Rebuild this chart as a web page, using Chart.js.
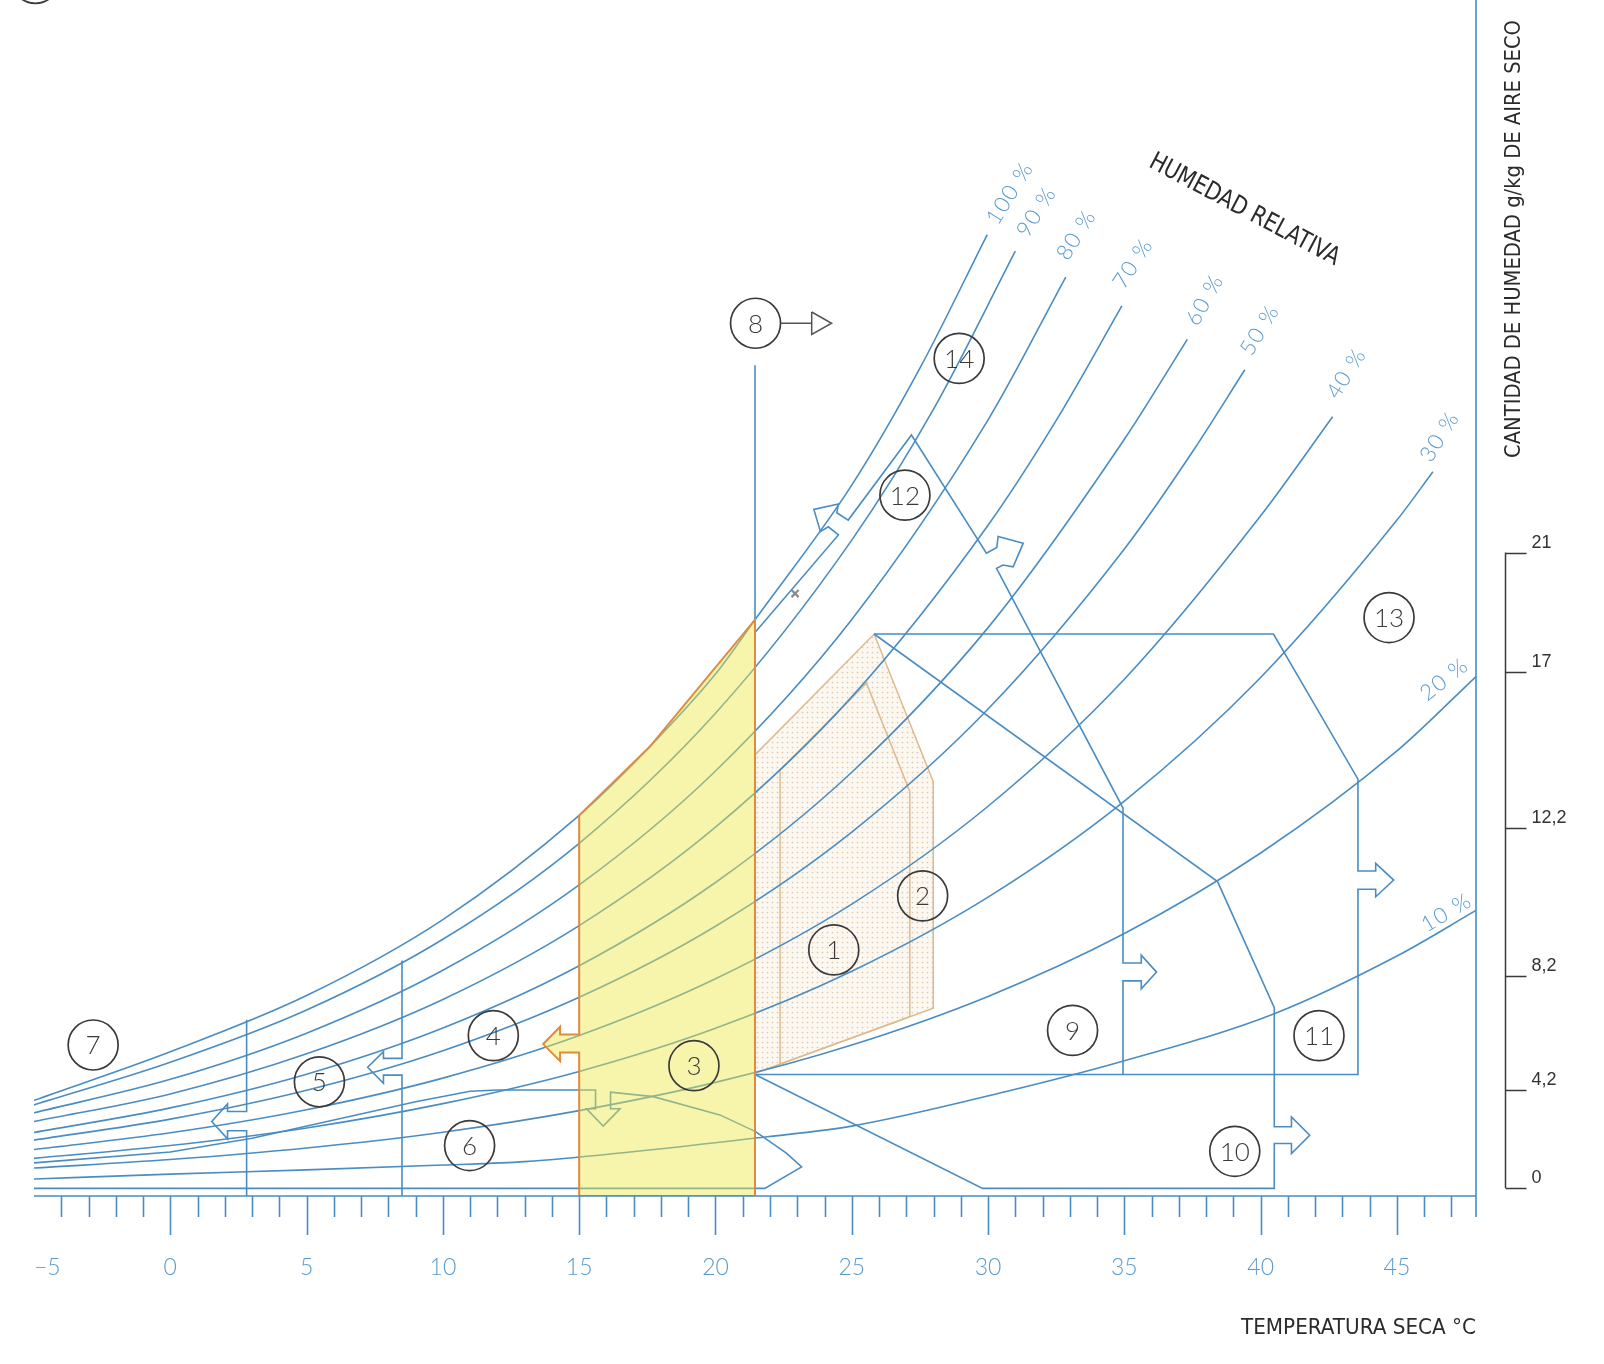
<!DOCTYPE html>
<html>
<head>
<meta charset="utf-8">
<script src="https://cdn.jsdelivr.net/npm/chart.js@4.4.1/dist/chart.umd.min.js"></script>
<style>
  html, body { margin: 0; padding: 0; background: #ffffff; }
  canvas { display: block; }
</style>
</head>
<body>
<canvas id="psicro" width="1604" height="1364"></canvas>
<script>
// --- ejes: temperatura seca (°C) y humedad (g/kg, escala del dibujo) ---
const X_MIN = -5, X_MAX = 47.9, Y_MAX = 39.37;

// curvas de humedad relativa [T, g/kg]
const RH_100 = [[-5,3.15],[0,4.75],[5,6.6],[10,9.1],[15,12.53],[17.6,14.8],[20,17.18],[21.45,18.97],[25,23.4],[27.5,27.25],[29.97,31.65]];
const RH_90 = [[-5,3.0],[0,4.4],[5,6.12],[10,8.45],[15,11.61],[20,15.89],[25,21.59],[28,25.9],[31.0,31.1]];
const RH_80 = [[-5,2.74],[0,3.84],[5,5.36],[10,7.43],[15,10.24],[20,13.99],[25,18.98],[30,25.55],[32.85,30.25]];
const RH_70 = [[-5,2.45],[0,3.36],[5,4.68],[10,6.47],[15,8.9],[20,12.14],[25,16.43],[30,22.08],[32.5,25.53],[34.91,29.3]];
const RH_60 = [[-5,2.09],[0,2.9],[5,4.01],[10,5.53],[15,7.58],[20,10.32],[25,13.95],[30,18.71],[35,24.91],[37.31,28.2]];
const RH_50 = [[-5,1.84],[0,2.53],[5,3.48],[10,4.78],[15,6.54],[20,8.88],[25,11.98],[30,16.03],[35,21.3],[37.5,24.5],[39.42,27.2]];
const RH_40 = [[-5,1.53],[0,2.08],[5,2.84],[10,3.88],[15,5.28],[20,7.15],[25,9.61],[30,12.83],[35,17.01],[40,22.39],[42.64,25.65]];
const RH_30 = [[-5,1.24],[0,1.66],[5,2.24],[10,3.04],[15,4.1],[20,5.52],[25,7.4],[30,9.84],[35,13.0],[40,17.07],[45,22.25],[46.32,23.84]];
const RH_20 = [[-5,0.92],[0,1.2],[5,1.58],[10,2.1],[15,2.81],[20,3.74],[25,4.97],[30,6.57],[35,8.64],[40,11.29],[45,14.65],[47.9,17.1]];
const RH_10 = [[-5,0.56],[0,0.72],[5,0.86],[10,1.02],[13,1.13],[21.9,1.95],[25,2.3],[30.4,3.38],[35,4.45],[40.5,6.0],[45,7.9],[47.9,9.4]];

const RH_LABELS = ['100 %', '90 %', '80 %', '70 %', '60 %', '50 %', '40 %', '30 %', '20 %', '10 %'];
const RH_LABEL_POS = [[30.8,33.01],[31.78,32.4],[33.24,31.64],[35.32,30.7],[37.95,29.5],[39.97,28.51],[43.15,27.08],[46.57,25.0],[46.74,17.01],[46.82,9.33]];

// zonas
const ZONE3 = [[15,0],[15,4.72],[14.3,4.72],[14.3,4.44],[13.68,5.0],[14.3,5.57],[14.3,5.32],[15,5.32],[15,12.53],[17.6,14.8],[21.45,18.97],[21.45,0],[15,0]];
const COMFORT_OUTER = [[21.45,4.04],[21.45,14.52],[25.82,18.5],[27.99,13.64],[27.99,6.18],[21.45,4.04]];
const COMFORT_INNER = [[22.37,4.34],[22.37,14.02],[25.54,16.88],[27.13,13.31],[27.13,5.9],[22.37,4.34]];
const ZONE6 = [[-5,1.09],[0,1.45],[3,1.9],[6,2.5],[9,3.1],[11,3.45],[12,3.49],[15.6,3.49],[15.6,2.87],[15.27,2.87],[15.88,2.3],[16.5,2.87],[16.15,2.87],[16.15,3.42],[17.72,3.27],[20.16,2.67],[21.47,2.12],[22.6,1.41],[23.16,0.96],[21.81,0.25],[-5,0.25]];
const LINE_5 = [[8.5,7.75],[8.5,4.53],[7.82,4.53],[7.82,4.75],[7.24,4.24],[7.82,3.71],[7.82,3.98],[8.5,3.98],[8.5,0]];
const LINE_7 = [[2.8,5.8],[2.8,2.78],[2.1,2.78],[2.1,3.03],[1.52,2.45],[2.1,1.88],[2.1,2.15],[2.8,2.15],[2.8,0]];
const LINE_8 = [[21.45,18.97],[21.45,27.35]];
const ARROW_8 = [[22.4,28.73],[23.53,28.73]];
const ARROW_8_HEAD = [[23.53,29.1],[24.26,28.73],[23.53,28.36],[23.53,29.1]];
const ZONE12 = [[21.45,18.55],[24.51,21.76],[24.14,22.03],[23.85,21.87],[23.61,22.6],[24.51,22.78],[24.45,22.49],[24.87,22.25],[27.19,25.05],[29.94,21.16],[30.32,21.35],[30.37,21.71],[31.29,21.49],[30.92,20.71],[30.55,20.77],[30.31,20.66],[34.95,12.77],[34.95,7.67],[35.62,7.67],[35.62,7.93],[36.18,7.37],[35.62,6.82],[35.62,7.08],[34.95,7.08],[34.95,4.0]];
const ZONE11 = [[25.82,18.5],[40.47,18.5],[43.57,13.72],[43.57,10.7],[44.22,10.7],[44.22,10.95],[44.88,10.4],[44.22,9.85],[44.22,10.1],[43.57,10.1],[43.57,4.0],[21.45,4.0]];
const ZONE10 = [[25.82,18.5],[38.42,10.35],[40.5,6.2],[40.5,2.28],[41.13,2.28],[41.13,2.6],[41.8,2.0],[41.13,1.4],[41.13,1.73],[40.5,1.73],[40.5,0.25],[29.8,0.25],[21.45,4.0]];

// numeros de zona
const ZONE_IDS = ['1','2','3','4','5','6','7','8','9','10','11','12','13','14'];
const ZONE_POS = [[24.34,8.1],[27.6,9.88],[19.21,4.29],[11.85,5.28],[5.47,3.76],[10.98,1.66],[-2.83,4.97],[21.47,28.73],[33.1,5.45],[39.05,1.47],[42.14,5.28],[26.95,23.07],[44.71,19.04],[28.94,27.57]];
const CROSS_MARK = [[22.92,19.83]];
const CORNER_MARK = [[-4.95,40.05]];

// escala derecha (tal como esta impresa)
const RIGHT_TICK_POS = [0.26, 3.5, 7.25, 12.1, 17.25, 21.18];
const RIGHT_TICK_LABELS = ['0', '4,2', '8,2', '12,2', '17', '21'];

const BLUE = '#4a8dc2';
const LABEL_BLUE = '#5a9bcb';
const ORANGE = '#df8a3c';
const TAN = '#dcbb8f';
const DARK = '#3a3a3a';

const pts = a => a.map(([x, y]) => ({ x, y }));

function curve(data) {
  return { data: pts(data), borderColor: BLUE, borderWidth: 1.6, pointRadius: 0, fill: false,
           cubicInterpolationMode: 'monotone', order: 5 };
}
function poly(data, color, width, extra) {
  return Object.assign({ data: pts(data), borderColor: color, borderWidth: width, pointRadius: 0,
                         fill: false, tension: 0, order: 5 }, extra || {});
}

// punteado de la zona de confort
const pc = document.createElement('canvas');
pc.width = 5; pc.height = 5;
const pctx = pc.getContext('2d');
pctx.fillStyle = '#fcf8f1';
pctx.fillRect(0, 0, 5, 5);
pctx.fillStyle = '#dcc7a6';
pctx.beginPath(); pctx.arc(2.5, 2.5, 0.85, 0, Math.PI * 2); pctx.fill();
const dots = pctx.createPattern(pc, 'repeat');

function fitText(ctx, text, w) {
  const m = ctx.measureText(text).width;
  ctx.save();
  ctx.scale(w / m, 1);
  ctx.fillText(text, 0, 0);
  ctx.restore();
}

// ejes dibujados a mano: linea base, marcas de grado, borde derecho, escala g/kg
const axisDeco = {
  id: 'axisDeco',
  afterDatasetsDraw(chart) {
    const { ctx, chartArea: a, scales: { x, y } } = chart;
    ctx.save();
    ctx.strokeStyle = BLUE;
    ctx.lineWidth = 1.6;
    ctx.beginPath();
    ctx.moveTo(a.left, a.bottom);
    ctx.lineTo(a.right, a.bottom);
    for (let t = -4; t <= 47; t++) {
      const px = Math.round(x.getPixelForValue(t)) + 0.5;
      ctx.moveTo(px, a.bottom);
      ctx.lineTo(px, a.bottom + (t % 5 === 0 ? 39 : 21));
    }
    ctx.moveTo(a.right, 0);
    ctx.lineTo(a.right, a.bottom + 21);
    ctx.stroke();

    // escala de humedad a la derecha
    const sx = a.right + 29.5;
    ctx.strokeStyle = DARK;
    ctx.lineWidth = 1.5;
    ctx.beginPath();
    ctx.moveTo(sx, y.getPixelForValue(RIGHT_TICK_POS[RIGHT_TICK_POS.length - 1]));
    ctx.lineTo(sx, y.getPixelForValue(RIGHT_TICK_POS[0]));
    ctx.fillStyle = '#333';
    ctx.font = '18px "Liberation Sans", Arial, sans-serif';
    ctx.textAlign = 'left';
    ctx.textBaseline = 'middle';
    RIGHT_TICK_POS.forEach((v, i) => {
      const py = Math.round(y.getPixelForValue(v)) + 0.5;
      ctx.moveTo(sx, py);
      ctx.lineTo(sx + 21, py);
      ctx.fillText(RIGHT_TICK_LABELS[i], sx + 26, py - 10);
    });
    ctx.stroke();
    ctx.restore();
  },
  afterDraw(chart) {
    const { ctx, chartArea: a, scales: { x, y } } = chart;
    ctx.save();

    // numeros dentro de los circulos
    ctx.fillStyle = DARK;
    ctx.font = '300 26px Lato, "DejaVu Sans", sans-serif';
    ctx.textAlign = 'center';
    ctx.textBaseline = 'middle';
    ZONE_POS.forEach(([t, v], i) => {
      ctx.fillText(ZONE_IDS[i], x.getPixelForValue(t), y.getPixelForValue(v) + 1);
    });

    // etiquetas de humedad relativa
    const angles = [-58, -58, -58, -57, -61, -59, -58, -58, -38, -31];
    ctx.fillStyle = LABEL_BLUE;
    ctx.font = '300 22px Lato, "DejaVu Sans", sans-serif';
    try { ctx.letterSpacing = '1.5px'; } catch (e) {}
    RH_LABEL_POS.forEach(([t, v], i) => {
      ctx.save();
      ctx.translate(x.getPixelForValue(t), y.getPixelForValue(v));
      ctx.rotate(angles[i] * Math.PI / 180);
      ctx.fillText(RH_LABELS[i], 0, 0);
      ctx.restore();
    });
    try { ctx.letterSpacing = '0px'; } catch (e) {}

    // titulos
    ctx.fillStyle = '#2b2b2b';
    ctx.font = '22px "Liberation Sans Narrow", "DejaVu Sans Condensed", "Liberation Sans", sans-serif';

    ctx.save();
    ctx.translate(x.getPixelForValue(39.4), y.getPixelForValue(32.45));
    ctx.rotate(28 * Math.PI / 180);
    ctx.textAlign = 'center';
    ctx.textBaseline = 'middle';
    ctx.font = '25px "Liberation Sans Narrow", "DejaVu Sans Condensed", "Liberation Sans", sans-serif';
    fitText(ctx, 'HUMEDAD RELATIVA', 212);
    ctx.restore();

    ctx.save();
    ctx.translate(a.right + 44, 239);
    ctx.rotate(-Math.PI / 2);
    ctx.textAlign = 'center';
    ctx.textBaseline = 'alphabetic';
    fitText(ctx, 'CANTIDAD DE HUMEDAD g/kg DE AIRE SECO', 438);
    ctx.restore();

    ctx.save();
    ctx.translate(a.right, 1334);
    ctx.textAlign = 'right';
    ctx.textBaseline = 'alphabetic';
    fitText(ctx, 'TEMPERATURA SECA °C', 235);
    ctx.restore();

    ctx.restore();
  }
};

const ctx = document.getElementById('psicro').getContext('2d');

new Chart(ctx, {
  type: 'line',
  data: {
    datasets: [
      poly(COMFORT_OUTER, TAN, 1.5, { fill: 'shape', backgroundColor: dots, order: 10 }),
      poly(COMFORT_INNER, TAN, 1.5, { order: 9 }),
      curve(RH_100), curve(RH_90), curve(RH_80), curve(RH_70), curve(RH_60),
      curve(RH_50), curve(RH_40), curve(RH_30), curve(RH_20), curve(RH_10),
      poly(ZONE6, BLUE, 1.6),
      poly(LINE_5, BLUE, 1.6),
      poly(LINE_7, BLUE, 1.6),
      poly(ZONE12, BLUE, 1.6),
      poly(ZONE11, BLUE, 1.6),
      poly(ZONE10, BLUE, 1.6),
      poly(LINE_8, BLUE, 1.6),
      poly(ZONE3, ORANGE, 2, { fill: 'shape', backgroundColor: 'rgba(237,230,70,0.45)', order: 1 }),
      poly(ARROW_8, '#555', 1.5, { order: 0 }),
      poly(ARROW_8_HEAD, '#555', 1.5, { order: 0 }),
      { data: pts(ZONE_POS), showLine: false, pointStyle: 'circle', pointRadius: 25,
        pointBackgroundColor: 'rgba(0,0,0,0)', pointBorderColor: DARK, pointBorderWidth: 1.7, order: 0 },
      { data: pts(CROSS_MARK), showLine: false, pointStyle: 'crossRot', pointRadius: 5,
        pointBorderColor: '#8a8a8a', pointBorderWidth: 2.2, order: 0 },
      { data: pts(CORNER_MARK), showLine: false, pointStyle: 'circle', pointRadius: 24, clip: false,
        pointBackgroundColor: 'rgba(0,0,0,0)', pointBorderColor: DARK, pointBorderWidth: 1.7, order: 0 }
    ]
  },
  options: {
    responsive: false,
    devicePixelRatio: 1,
    animation: false,
    events: [],
    layout: { autoPadding: false, padding: { left: 34, right: 128, top: 0, bottom: 0 } },
    plugins: { legend: { display: false }, tooltip: { enabled: false } },
    scales: {
      x: {
        type: 'linear',
        min: X_MIN,
        max: X_MAX,
        grid: { display: false, drawTicks: true, tickLength: 58 },
        border: { display: false },
        ticks: {
          stepSize: 5,
          includeBounds: false,
          padding: 0,
          color: LABEL_BLUE,
          font: { family: 'Lato, "DejaVu Sans", sans-serif', size: 23, weight: 300 },
          callback: v => v < 0 ? '\u2007\u2007\u2212' + (-v) : String(v)
        },
        afterFit: s => { s.height = 168; }
      },
      y: { type: 'linear', min: 0, max: Y_MAX, display: false }
    }
  },
  plugins: [axisDeco]
});
</script>
</body>
</html>
